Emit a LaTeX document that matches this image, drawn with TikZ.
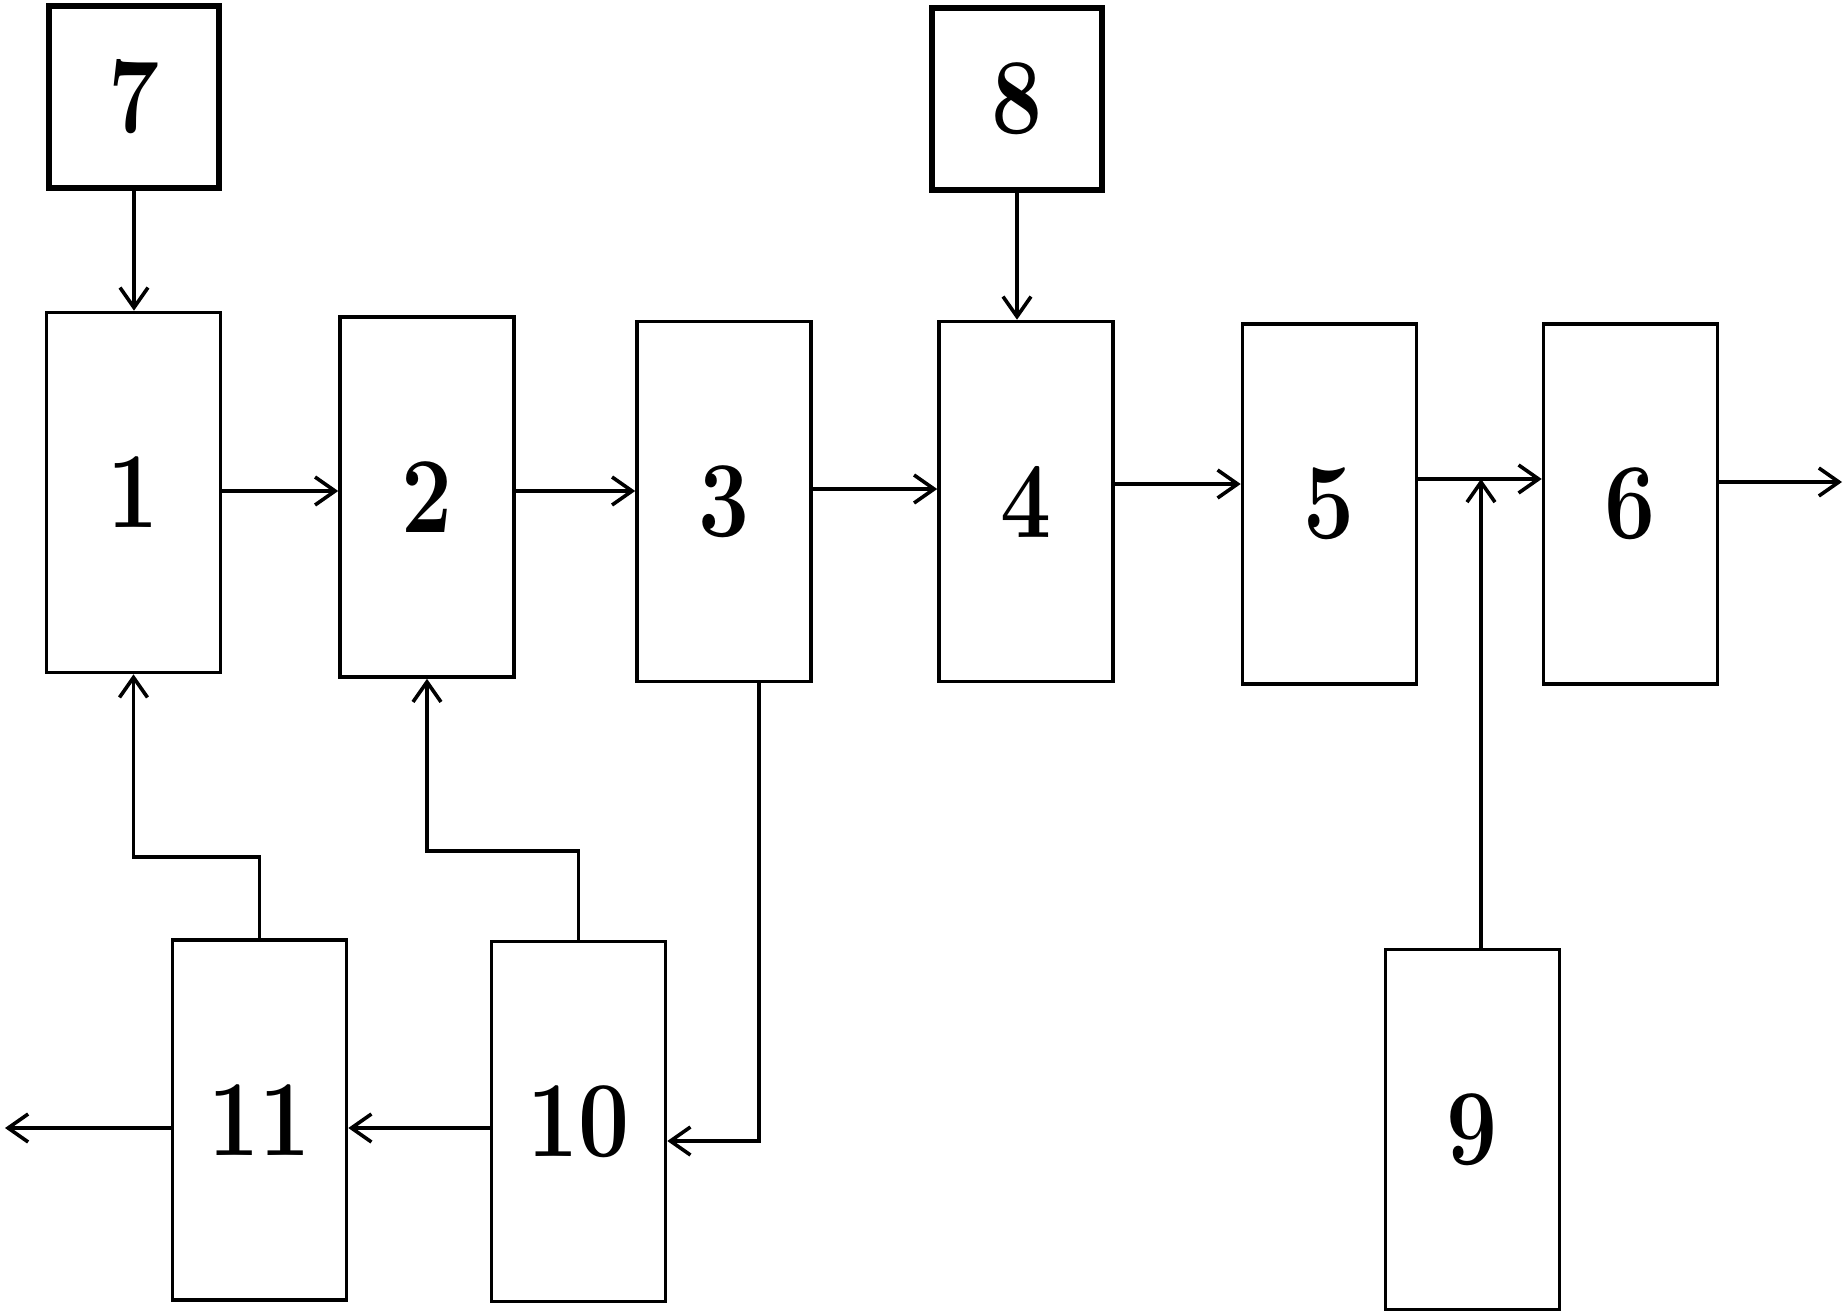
\documentclass[tikz,border=0pt]{standalone}
\usepackage{graphicx}
\usetikzlibrary{arrows.meta}

\newcommand\boxlbl[1]{\scalebox{0.84}[1]{#1}}

\begin{document}
\begin{tikzpicture}[x=0.5pt,y=-0.5pt,
  unit/.style={draw,line width=1.8pt,minimum width=87pt,minimum height=180pt,inner sep=0pt,
    font=\fontsize{54}{54}\selectfont\bfseries},
  feed/.style={draw,line width=2.7pt,minimum width=85pt,minimum height=91pt,inner sep=0pt,
    font=\fontsize{54}{54}\selectfont\bfseries},
  flow/.style={line width=1.8pt,-{Straight Barb[length=10pt,width=14pt]}}]
  \useasboundingbox (0,0) rectangle (1847,1316);

  \node[feed] (n7) at (134,97) {\boxlbl{7}};
  \node[feed] (n8) at (1017,99) {\boxlbl{8}};
  \node[unit] (n1) at (133.5,492.5) {\boxlbl{1}};
  \node[unit] (n2) at (427,497) {\boxlbl{2}};
  \node[unit] (n3) at (724,501.5) {\boxlbl{3}};
  \node[unit] (n4) at (1026,501.5) {\boxlbl{4}};
  \node[unit] (n5) at (1329.5,504) {\boxlbl{5}};
  \node[unit] (n6) at (1630.5,504) {\boxlbl{6}};
  \node[unit] (n11) at (259.5,1120) {\boxlbl{11}};
  \node[unit] (n10) at (578.5,1121.5) {\boxlbl{10}};
  \node[unit] (n9) at (1472.5,1129.5) {\boxlbl{9}};

  \coordinate (a12) at (0,491);
  \coordinate (a23) at (0,491);
  \coordinate (a34) at (0,489);
  \coordinate (a45) at (0,484);
  \coordinate (j56) at (1481,479);
  \coordinate (out6) at (1842,482);
  \coordinate (k3) at (759,1141);
  \coordinate (out11) at (5,1128);

  \draw[flow] (n7.south) -- (n7.south |- n1.north);
  \draw[flow] (n8.south) -- (n8.south |- n4.north);
  \draw[flow] (n1.east |- a12) -- (n2.west |- a12);
  \draw[flow] (n2.east |- a23) -- (n3.west |- a23);
  \draw[flow] (n3.east |- a34) -- (n4.west |- a34);
  \draw[flow] (n4.east |- a45) -- (n5.west |- a45);
  \draw[flow] (n5.east |- j56) -- (n6.west |- j56);
  \draw[flow] (n6.east |- out6) -- (out6);
  \draw[flow] (n9.north -| j56) -- (j56);
  \draw[flow] (n3.south -| k3) |- (n10.east |- k3);
  \draw[flow] (n10.west |- out11) -- (n11.east |- out11);
  \draw[flow] (n11.west |- out11) -- (out11);
  \draw[flow] (n11.north) -- ++(0,-81) -| (n1.south);
  \draw[flow] (n10.north) -- ++(0,-89) -| (n2.south);
\end{tikzpicture}
\end{document}
